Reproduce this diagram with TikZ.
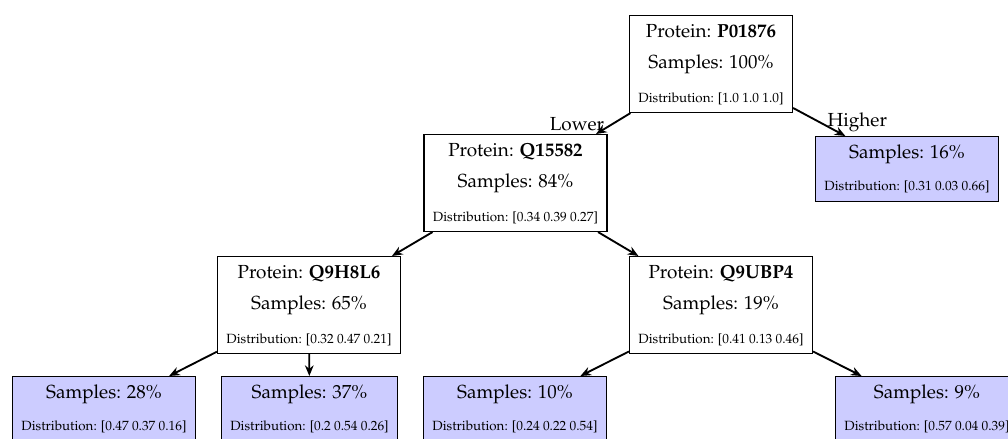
\documentclass[tikz,border=0pt]{standalone}
\usepackage[T1]{fontenc}
\usepackage{mathpazo}
\usetikzlibrary{arrows.meta}

% text sizes used in the tree boxes
\newcommand\bigfont{\fontsize{14.2}{17}\selectfont}
\newcommand\distfont{\fontsize{10}{12}\selectfont}
% invisible strut fixing the height and depth of one text row
\newcommand\rowstrut[2]{\rule[-#2]{0pt}{\dimexpr#1+#2\relax}}
\renewcommand\arraystretch{0}

% box contents: split node (three rows) and leaf (two rows)
\newcommand\splitbox[3]{%
  \begin{tabular}{@{}c@{}}
    \rowstrut{16.5pt}{6.75pt}Protein: \textbf{#1}\\
    \rowstrut{16.5pt}{9pt}Samples: #2\\
    \rowstrut{16.5pt}{7.5pt}{\distfont Distribution: [#3]}
  \end{tabular}}
\newcommand\leafbox[2]{%
  \begin{tabular}{@{}c@{}}
    \rowstrut{16.5pt}{7.5pt}Samples: #1\\
    \rowstrut{16.5pt}{8.25pt}{\distfont Distribution: [#2]}
  \end{tabular}}

\tikzset{
  splitnode/.style={draw, line width=0.8pt, fill=white, font=\bigfont,
    inner xsep=6.75pt, inner ysep=0pt, anchor=north},
  leafnode/.style={splitnode, fill=blue!20},
  treeedge/.style={line width=1.4pt, -{Stealth[length=8pt, width=6.5pt]}},
  branchlabel/.style={font=\bigfont, inner sep=0pt, anchor=base}
}

\begin{document}
\begin{tikzpicture}[x=0.75pt, y=-0.75pt]
  \useasboundingbox (0,0) rectangle (1008,439);

  % nodes (placed by the middle of their top edge)
  \node[splitnode] (root)   at (711,15)  {\splitbox{P01876}{100\%}{1.0 1.0 1.0}};
  \node[splitnode] (q15582) at (515.5,134) {\splitbox{Q15582}{84\%}{0.34 0.39 0.27}};
  \node[leafnode]  (hi)     at (907,136) {\leafbox{16\%}{0.31 0.03 0.66}};
  \node[splitnode] (q9h8l6) at (309,256) {\splitbox{Q9H8L6}{65\%}{0.32 0.47 0.21}};
  \node[splitnode] (q9ubp4) at (721,256) {\splitbox{Q9UBP4}{19\%}{0.41 0.13 0.46}};
  \node[leafnode]  (l1)     at (104,376) {\leafbox{28\%}{0.47 0.37 0.16}};
  \node[leafnode]  (l2)     at (309.5,376) {\leafbox{37\%}{0.2 0.54 0.26}};
  \node[leafnode]  (l3)     at (515,376) {\leafbox{10\%}{0.24 0.22 0.54}};
  \node[leafnode]  (l4)     at (927,376) {\leafbox{9\%}{0.57 0.04 0.39}};

  % connectors
  \draw[treeedge] (root) -- node[branchlabel, pos=1, shift={(-19,-4)}] {Lower} (q15582);
  \draw[treeedge] (root) -- node[branchlabel, pos=1, shift={(12,-10)}] {Higher} (hi);
  \draw[treeedge] (q15582) -- (q9h8l6);
  \draw[treeedge] (q15582) -- (q9ubp4);
  \draw[treeedge] (q9h8l6) -- (l1);
  \draw[treeedge] (q9h8l6) -- (l2);
  \draw[treeedge] (q9ubp4) -- (l3);
  \draw[treeedge] (q9ubp4) -- (l4);
\end{tikzpicture}
\end{document}
